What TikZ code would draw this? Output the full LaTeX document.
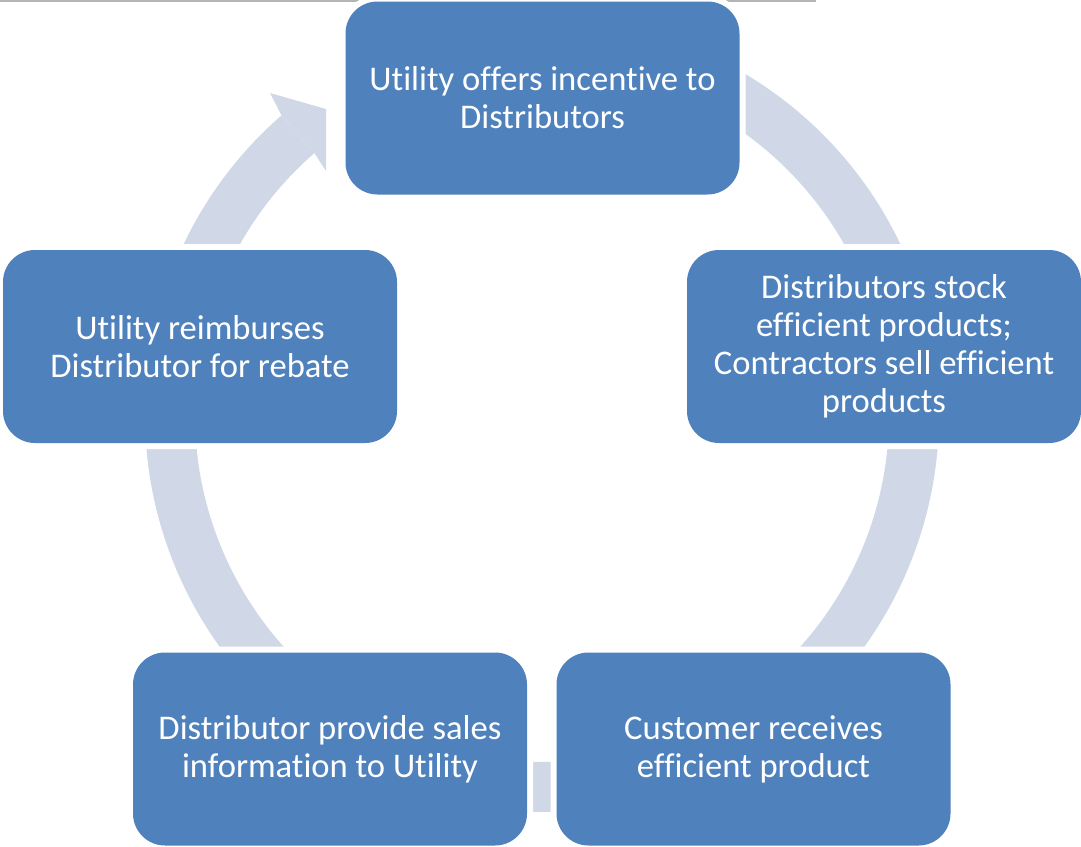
\documentclass[tikz,border=0pt]{standalone}
\usepackage{fontspec}
\setmainfont[Ligatures={NoCommon}]{Carlito}
\usepackage{tikz}
\usetikzlibrary{calc}
\usetikzlibrary{backgrounds}
\definecolor{boxblue}{HTML}{4F81BD}
\definecolor{ringblue}{HTML}{D0D8E8}
\definecolor{rulegray}{HTML}{B4B4B4}

\begin{document}
\begin{tikzpicture}[x=0.5pt, y=-0.5pt,
    stage/.style={rectangle, rounded corners=16pt, fill=boxblue, text=white,
        minimum width=197pt, minimum height=96.5pt, align=center,
        font=\fontsize{17.3}{19}\selectfont, preaction={draw=white, line width=6pt}},
    flow/.style={draw=ringblue, line width=25pt}]
            \useasboundingbox (0,0) rectangle (1081,846);

            % Nodes
            \coordinate (c) at (542,415);
            \node[stage] (offer) at (542.5,98) {Utility offers incentive to\\Distributors};
            \node[stage] (stock) at (884,346.5) {Distributors stock\\efficient products;\\Contractors sell efficient\\products};
            \node[stage] (receive) at (753.5,749) {Customer receives\\efficient product};
            \node[stage] (report) at (330,749) {Distributor provide sales\\information to Utility};
            \node[stage] (repay) at (200,346.5) {Utility reimburses\\Distributor for rebate};

            \begin{scope}[on background layer]
            % Rule
            \draw[rulegray, line width=0.8pt] (0,0.8) -- (816,0.8);

            % Edges
            \draw[flow] let \p1=($(offer)-(c)$), \p2=($(stock)-(c)$), \n1={atan2(\y1,\x1)}, \n2={atan2(\y2,\x2)} in
                ($(c)!186pt!(offer)$) arc[start angle=\n1, end angle=\n2, radius=186pt];
            \draw[flow] let \p1=($(stock)-(c)$), \p2=($(receive)-(c)$), \n1={atan2(\y1,\x1)}, \n2={atan2(\y2,\x2)} in
                ($(c)!186pt!(stock)$) arc[start angle=\n1, end angle=\n2, radius=186pt];
            \draw[flow] let \p1=($(receive)-(c)$), \p2=($(report)-(c)$), \n1={atan2(\y1,\x1)}, \n2={atan2(\y2,\x2)} in
                ($(c)!186pt!(receive)$) arc[start angle=\n1, end angle=\n2, radius=186pt];
            \draw[flow] let \p1=($(report)-(c)$), \p2=($(repay)-(c)$), \n1={atan2(\y1,\x1)}, \n2={atan2(\y2,\x2)-360} in
                ($(c)!186pt!(report)$) arc[start angle=\n1, end angle=\n2, radius=186pt];
            \draw[flow] let \p1=($(repay)-(c)$), \n1={atan2(\y1,\x1)} in
                ($(c)!186pt!(repay)$) arc[start angle=\n1, end angle=131, radius=186pt] coordinate (head);
            \fill[ringblue] (281.5,115.4) -- (270,93) -- (326,109) -- (326,171) -- (314.4,153.1) -- cycle;
            \end{scope}
        \end{tikzpicture}
\end{document}
